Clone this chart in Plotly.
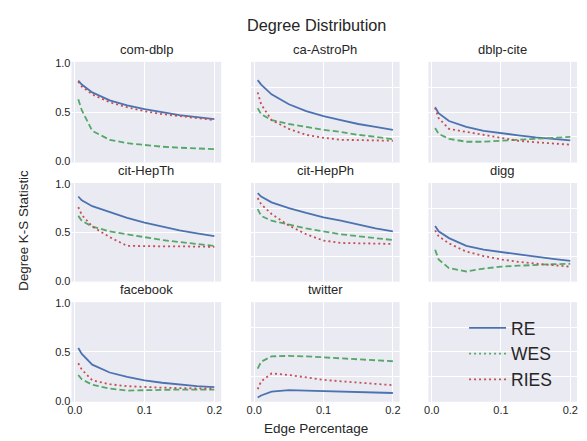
import plotly.graph_objects as go

x_pct = [0.005, 0.01, 0.025, 0.05, 0.075, 0.1, 0.125, 0.15, 0.175, 0.2]

datasets = ["com-dblp", "ca-AstroPh", "dblp-cite", "cit-HepTh", "cit-HepPh", "digg", "facebook", "twitter"]

re_vals = {
    "com-dblp":   [0.82, 0.78, 0.70, 0.62, 0.57, 0.53, 0.50, 0.47, 0.45, 0.43],
    "ca-AstroPh": [0.825, 0.78, 0.68, 0.58, 0.51, 0.46, 0.42, 0.38, 0.35, 0.32],
    "dblp-cite":  [0.55, 0.49, 0.41, 0.35, 0.31, 0.285, 0.265, 0.245, 0.23, 0.215],
    "cit-HepTh":  [0.87, 0.83, 0.77, 0.71, 0.65, 0.60, 0.56, 0.52, 0.49, 0.46],
    "cit-HepPh":  [0.905, 0.87, 0.81, 0.75, 0.70, 0.655, 0.62, 0.58, 0.54, 0.51],
    "digg":       [0.565, 0.51, 0.44, 0.36, 0.32, 0.295, 0.27, 0.245, 0.225, 0.205],
    "facebook":   [0.54, 0.48, 0.37, 0.29, 0.245, 0.21, 0.185, 0.165, 0.15, 0.14],
    "twitter":    [0.035, 0.055, 0.095, 0.11, 0.105, 0.10, 0.095, 0.09, 0.085, 0.08],
}
wes_vals = {
    "com-dblp":   [0.63, 0.52, 0.31, 0.22, 0.185, 0.165, 0.15, 0.14, 0.13, 0.125],
    "ca-AstroPh": [0.54, 0.48, 0.42, 0.38, 0.35, 0.32, 0.30, 0.27, 0.25, 0.225],
    "dblp-cite":  [0.34, 0.28, 0.23, 0.20, 0.20, 0.21, 0.22, 0.235, 0.245, 0.25],
    "cit-HepTh":  [0.67, 0.62, 0.56, 0.51, 0.48, 0.45, 0.42, 0.40, 0.38, 0.36],
    "cit-HepPh":  [0.74, 0.67, 0.62, 0.58, 0.54, 0.51, 0.48, 0.46, 0.44, 0.42],
    "digg":       [0.32, 0.22, 0.13, 0.095, 0.125, 0.145, 0.155, 0.165, 0.17, 0.175],
    "facebook":   [0.265, 0.22, 0.165, 0.125, 0.105, 0.11, 0.115, 0.115, 0.115, 0.115],
    "twitter":    [0.33, 0.40, 0.455, 0.46, 0.455, 0.445, 0.435, 0.425, 0.415, 0.405],
}
ries_vals = {
    "com-dblp":   [0.81, 0.76, 0.68, 0.60, 0.55, 0.51, 0.48, 0.46, 0.44, 0.42],
    "ca-AstroPh": [0.70, 0.58, 0.42, 0.33, 0.27, 0.24, 0.22, 0.215, 0.21, 0.21],
    "dblp-cite":  [0.545, 0.44, 0.33, 0.30, 0.265, 0.235, 0.21, 0.195, 0.18, 0.17],
    "cit-HepTh":  [0.76, 0.68, 0.56, 0.45, 0.36, 0.355, 0.355, 0.355, 0.355, 0.35],
    "cit-HepPh":  [0.855, 0.79, 0.69, 0.57, 0.48, 0.415, 0.39, 0.385, 0.385, 0.38],
    "digg":       [0.52, 0.46, 0.385, 0.30, 0.255, 0.22, 0.195, 0.175, 0.16, 0.145],
    "facebook":   [0.385, 0.32, 0.21, 0.17, 0.15, 0.14, 0.135, 0.13, 0.13, 0.125],
    "twitter":    [0.12, 0.20, 0.28, 0.265, 0.24, 0.215, 0.20, 0.185, 0.17, 0.16],
}

x_ticks = [0.0, 0.1, 0.2]
x_ticklabels = ["0.0", "0.1", "0.2"]
y_ticks_first = [0.0, 0.5, 1.0]
y_ticklabels_first = ["0.0", "0.5", "1.0"]
y_ticks_other = [0.25, 0.5, 0.75]

BLUE, GREEN, RED = "#4C72B0", "#55A868", "#C44E52"
BG = "#EAEAF2"
TXT = "#262626"
FONT = "Liberation Sans, Arial, sans-serif"

# the page body adds an 8px margin; lay out in window pixels and shift
OFF = 8
W, H = 587 - OFF, 441 - OFF


def px(x):
    return (x - OFF) / W


def py(y):
    return 1 - (y - OFF) / H


col_px = [(68, 219), (249, 399), (428, 578)]
row_px = [(58, 161), (182, 283), (304, 406)]

fig = go.Figure()
layout = {}
annotations = []

for i in range(9):
    r, c = divmod(i, 3)
    n = i + 1
    xa = "xaxis" if n == 1 else f"xaxis{n}"
    ya = "yaxis" if n == 1 else f"yaxis{n}"
    xref = "x" if n == 1 else f"x{n}"
    yref = "y" if n == 1 else f"y{n}"
    x0, x1 = col_px[c]
    y0, y1 = row_px[r]
    layout[xa] = dict(
        domain=[px(x0), px(x1)], anchor=yref,
        range=[-0.00475, 0.20975],
        tickvals=x_ticks, ticktext=x_ticklabels,
        showticklabels=(r == 2),
        showgrid=True, gridcolor="white", gridwidth=1, zeroline=False,
        showline=False, ticks="", tickfont=dict(size=11, color=TXT, family=FONT),
    )
    layout[ya] = dict(
        domain=[py(y1), py(y0)], anchor=xref,
        range=[-0.01, 1.01],
        tickvals=y_ticks_first if c == 0 else y_ticks_other,
        ticktext=y_ticklabels_first if c == 0 else ["", "", ""],
        showticklabels=(c == 0),
        showgrid=True, gridcolor="white", gridwidth=1, zeroline=False,
        showline=False, ticks="", tickfont=dict(size=11, color=TXT, family=FONT),
    )
    if i < 8:
        name = datasets[i]
        fig.add_trace(go.Scatter(x=x_pct, y=re_vals[name], mode="lines", xaxis=xref, yaxis=yref,
                                 line=dict(color=BLUE, width=1.8), showlegend=False))
        fig.add_trace(go.Scatter(x=x_pct, y=wes_vals[name], mode="lines", xaxis=xref, yaxis=yref,
                                 line=dict(color=GREEN, width=1.8, dash="6px,3px"), showlegend=False))
        fig.add_trace(go.Scatter(x=x_pct, y=ries_vals[name], mode="lines", xaxis=xref, yaxis=yref,
                                 line=dict(color=RED, width=1.8, dash="2px,3px"), showlegend=False))
        annotations.append(dict(text=name, x=px((x0 + x1) / 2), y=py(y0 - 3),
                                xref="paper", yref="paper", xanchor="center", yanchor="bottom",
                                showarrow=False, font=dict(size=13, color=TXT, family=FONT)))

# legend entries (drawn in the empty 9th panel)
fig.add_trace(go.Scatter(x=[None], y=[None], mode="lines", name="RE", xaxis="x9", yaxis="y9",
                         line=dict(color=BLUE, width=1.8)))
fig.add_trace(go.Scatter(x=[None], y=[None], mode="lines", name="WES", xaxis="x9", yaxis="y9",
                         line=dict(color=GREEN, width=1.8, dash="2px,3px")))
fig.add_trace(go.Scatter(x=[None], y=[None], mode="lines", name="RIES", xaxis="x9", yaxis="y9",
                         line=dict(color=RED, width=1.8, dash="2px,3px")))

annotations.append(dict(text="Degree Distribution", x=px(315.5), y=py(20), xref="paper", yref="paper",
                        xanchor="center", yanchor="middle", showarrow=False,
                        font=dict(size=16.3, color=TXT, family=FONT)))
annotations.append(dict(text="Edge Percentage", x=px(315), y=py(433), xref="paper", yref="paper",
                        xanchor="center", yanchor="middle", showarrow=False,
                        font=dict(size=13.5, color=TXT, family=FONT)))
annotations.append(dict(text="Degree K-S Statistic", x=px(20), y=py(230), xref="paper", yref="paper",
                        xanchor="center", yanchor="middle", showarrow=False, textangle=-90,
                        font=dict(size=13.4, color=TXT, family=FONT)))

fig.update_layout(
    width=W, height=H,
    margin=dict(l=0, r=0, t=0, b=0),
    paper_bgcolor="white", plot_bgcolor=BG,
    font=dict(family=FONT, color=TXT),
    annotations=annotations,
    legend=dict(x=px(464), y=py(312), xanchor="left", yanchor="top",
                bgcolor="rgba(0,0,0,0)", font=dict(size=17.5, color=TXT, family=FONT),
                tracegroupgap=0, itemwidth=37),
    **layout,
)

fig.write_html("out.html")
